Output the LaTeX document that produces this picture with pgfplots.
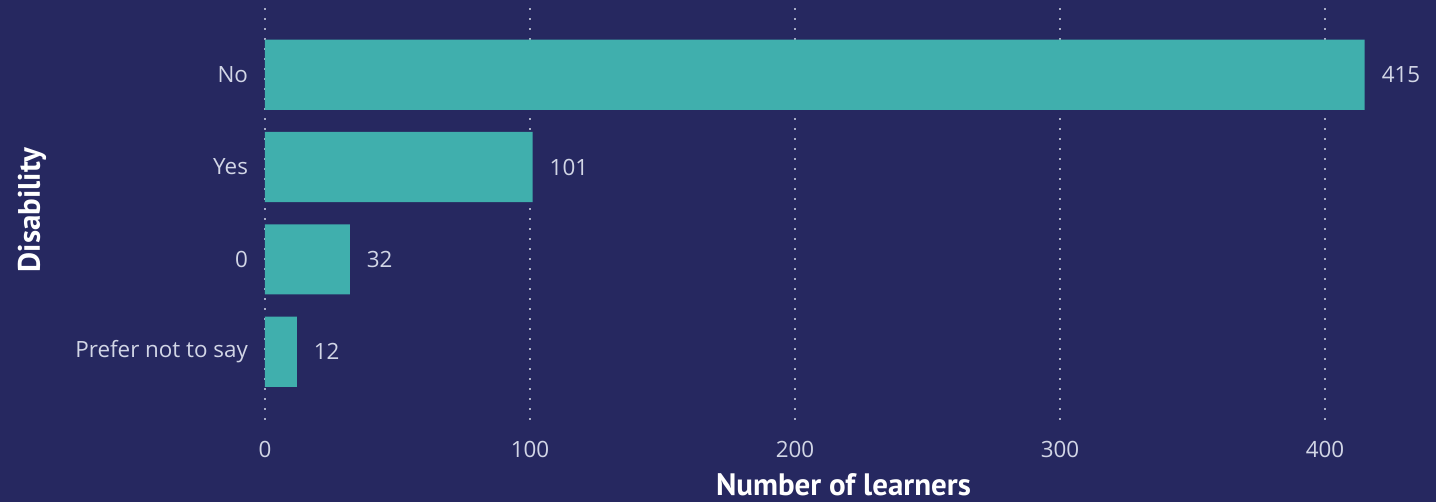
\documentclass[border=0pt]{standalone}
\usepackage{fontspec}
\setmainfont{Open Sans}
\newfontfamily\titlefont{PT Sans}
\usepackage{pgfplots}
\pgfplotsset{compat=1.18}
\definecolor{bg}{HTML}{262860}
\definecolor{barc}{HTML}{40AFAD}
\definecolor{tickc}{HTML}{D2D6E6}
\definecolor{gridc}{HTML}{A8ACC4}
\begin{document}
\begin{tikzpicture}
\path[use as bounding box, fill=bg] (0pt,0pt) rectangle (718pt,251pt);
\begin{axis}[
  at={(132.5pt,41pt)}, anchor=south west,
  scale only axis, width=585.5pt, height=210pt,
  xmin=0, xmax=441.9, ymin=-0.74, ymax=3.81,
  axis line style={draw=none},
  xbar, bar width=0.76, bar shift=0pt,
  xtick={0,100,200,300,400},
  ytick={0,1,2,3},
  yticklabels={Prefer not to say,0,Yes,No},
  major tick length=0pt,
  xmajorgrids=true, ymajorgrids=false,
  grid style={draw=gridc, line width=0.9pt, dash pattern=on 0.9pt off 4.1pt},
  ticklabel style={font=\fontsize{11.2}{13}\selectfont, text=tickc},
  /pgf/number format/assume math mode=true,
  yticklabel style={xshift=-5pt},
  xticklabel style={yshift=-7pt},
  xlabel={\titlefont\bfseries Number of learners},
  ylabel={\titlefont\bfseries Disability},
  label style={font=\fontsize{15.5}{17}\selectfont, text=white},
  xlabel style={at={(axis description cs:0.494,0)}, anchor=center, yshift=-32.5pt},
  ylabel style={at={(axis description cs:-0.199,0.5)}, anchor=center},
  nodes near coords,
  nodes near coords style={anchor=west, xshift=5pt, font=\fontsize{11.2}{13}\selectfont, text=tickc},
  clip=false,
]
\addplot[fill=barc, draw=none] coordinates {(12,0) (32,1) (101,2) (415,3)};
\end{axis}
\end{tikzpicture}
\end{document}
